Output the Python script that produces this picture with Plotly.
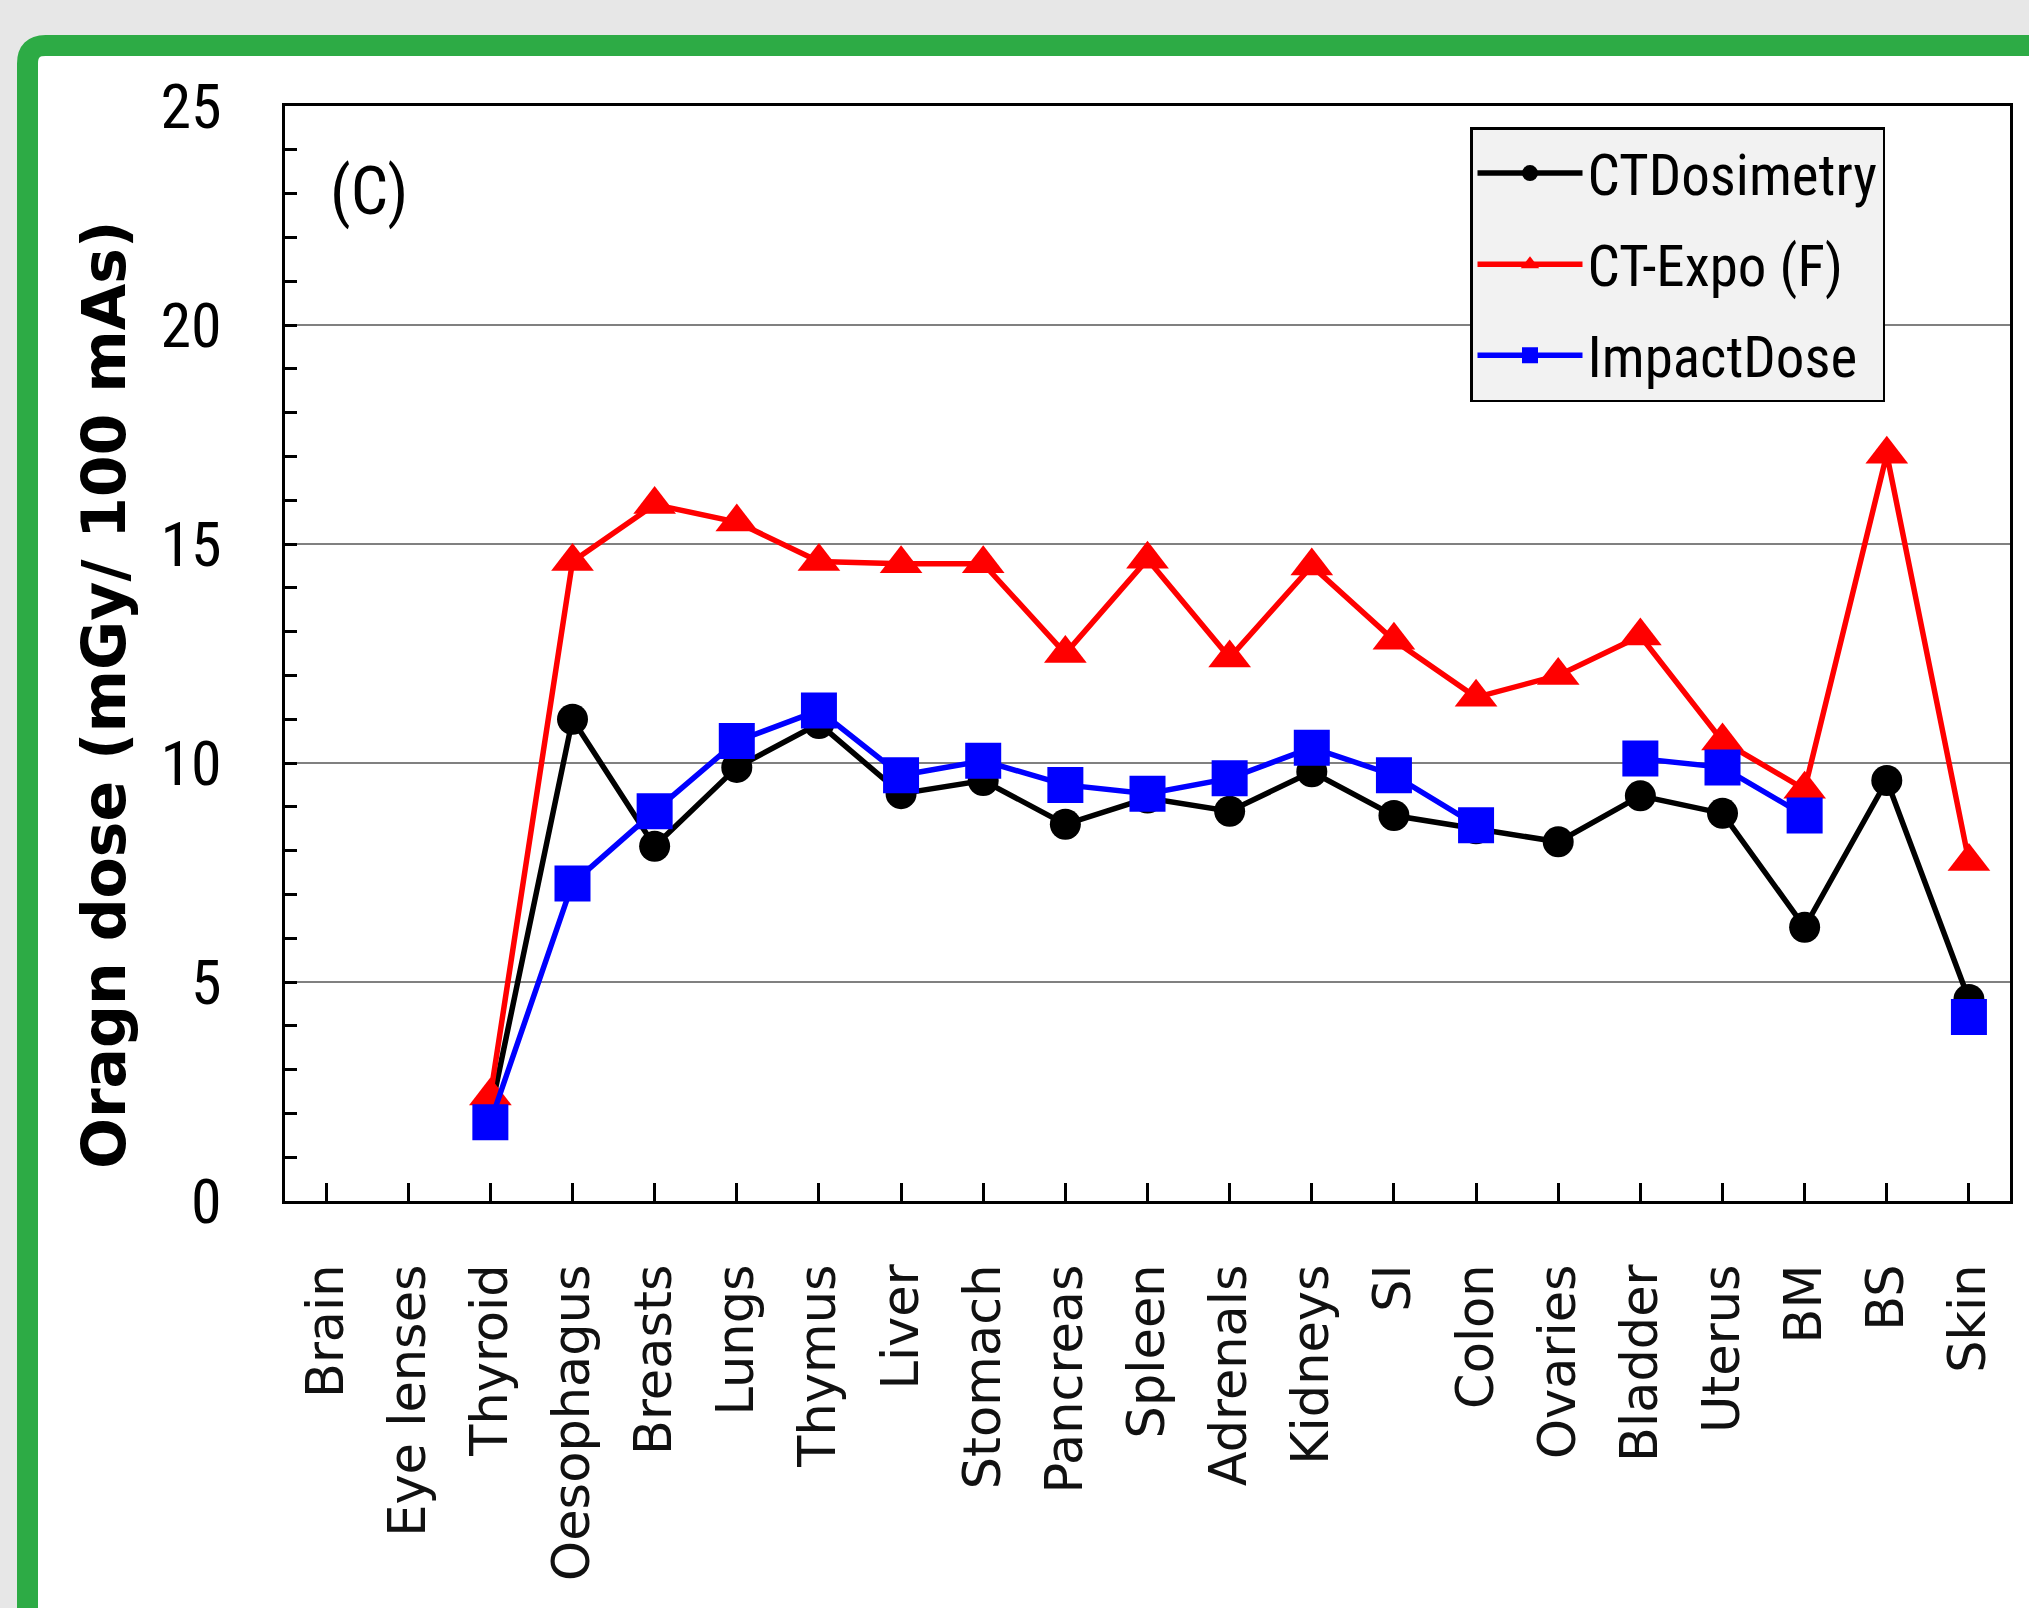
import plotly.graph_objects as go

organs = ["Brain", "Eye lenses", "Thyroid", "Oesophagus", "Breasts", "Lungs", "Thymus",
          "Liver", "Stomach", "Pancreas", "Spleen", "Adrenals", "Kidneys", "SI", "Colon",
          "Ovaries", "Bladder", "Uterus", "BM", "BS", "Skin"]

ctdosimetry = [None, None, 2.0, 11.0, 8.1, 9.9, 10.9, 9.3, 9.6, 8.6, 9.2, 8.9, 9.8, 8.8, 8.5,
               8.2, 9.25, 8.85, 6.25, 9.6, 4.6]
ctexpo_f = [None, None, 2.4, 14.6, 15.9, 15.5, 14.6, 14.55, 14.55, 12.5, 14.65, 12.4, 14.5,
            12.8, 11.5, 12.0, 12.9, 10.5, 9.4, 17.05, 7.75]
impactdose = [None, None, 1.8, 7.25, 8.9, 10.5, 11.2, 9.72, 10.05, 9.5, 9.3, 9.65, 10.35,
              9.72, 8.58, None, 10.1, 9.9, 8.8, None, 4.2]

y_ticks = [0, 5, 10, 15, 20, 25]

W_PAGE, H_PAGE = 2029, 1608
L, R, T, B = 285, 2010, 106, 1201
PW, PH = R - L, B - T


def px2x(px):
    return (px - L) / PW


def px2y(py):
    return (B - py) / PH


fig = go.Figure()
fig.add_trace(go.Scatter(
    x=organs, y=ctdosimetry, name="CTDosimetry", mode="lines+markers", legendgroup="a",
    line=dict(color="black", width=5.5),
    marker=dict(symbol="circle", size=31, color="black"),
    connectgaps=False))
fig.add_trace(go.Scatter(
    x=organs, y=ctexpo_f, name="CT-Expo (F)", mode="lines+markers", legendgroup="b",
    line=dict(color="#ff0000", width=5.5),
    marker=dict(symbol="triangle-up", size=37, color="#ff0000"),
    connectgaps=False))
fig.add_trace(go.Scatter(
    x=organs, y=impactdose, name="ImpactDose", mode="lines+markers", legendgroup="c",
    line=dict(color="#0000ff", width=5.5),
    marker=dict(symbol="square", size=36, color="#0000ff"),
    connectgaps=False))

narrow = "Liberation Sans Narrow, Roboto Condensed, Arial Narrow, Roboto, sans-serif"

# green frame around white card
x0, y0 = px2x(27.5), px2y(45.5)
x1, y1 = px2x(2080), px2y(1680)
rx, ry = 18 / PW, 18 / PH
path = (f"M {x0},{y0 - ry} Q {x0},{y0} {x0 + rx},{y0} L {x1},{y0} "
        f"L {x1},{y1} L {x0},{y1} Z")
fig.add_shape(type="path", path=path, xref="paper", yref="paper",
              line=dict(color="#2dab45", width=21), fillcolor="white", layer="below")

fig.add_annotation(text="(C)", x=px2x(369), y=px2y(191), xref="paper", yref="paper",
                   showarrow=False, font=dict(family=narrow, size=66, color="black"),
                   xanchor="center", yanchor="middle")
fig.add_annotation(text="<b>Oragn dose (mGy/ 100 mAs)</b>", x=px2x(104), y=px2y(695),
                   xref="paper", yref="paper", showarrow=False, textangle=-90,
                   font=dict(family="DejaVu Sans", size=60, color="black"),
                   xanchor="center", yanchor="middle")

fig.update_layout(
    width=W_PAGE, height=H_PAGE,
    margin=dict(l=L, r=W_PAGE - R, t=T, b=H_PAGE - B, pad=0),
    paper_bgcolor="#e7e7e7", plot_bgcolor="white",
    showlegend=True,
    legend=dict(x=px2x(1470), y=px2y(127), xanchor="left", yanchor="top",
                bgcolor="#f2f2f2", bordercolor="black", borderwidth=2.5,
                font=dict(family=narrow, size=57, color="black"),
                itemwidth=105, tracegroupgap=14),
)
fig.update_xaxes(
    type="category", categoryorder="array", categoryarray=organs,
    range=[-0.5, len(organs) - 0.5],
    showline=True, linecolor="black", linewidth=3, mirror=True,
    ticks="inside", ticklen=18, tickwidth=2.5, tickcolor="black",
    tickangle=-90, ticklabelstandoff=40,
    tickfont=dict(family="DejaVu Sans", size=51, color="#111"),
    showgrid=False, zeroline=False,
)
fig.update_yaxes(
    range=[0, 25], tickvals=y_ticks, ticktext=[str(v) for v in y_ticks],
    showline=True, linecolor="black", linewidth=3, mirror=True,
    ticks="inside", ticklen=12, tickwidth=2.5, tickcolor="black",
    ticklabelstandoff=48,
    minor=dict(dtick=1, ticks="inside", ticklen=12, tickwidth=2.5, tickcolor="black",
               showgrid=False),
    tickfont=dict(family=narrow, size=62, color="black"),
    showgrid=True, gridcolor="#808080", gridwidth=2, zeroline=False,
)

fig.write_html("out.html", config={"displayModeBar": False},
               post_script="document.body.style.margin='0';")
